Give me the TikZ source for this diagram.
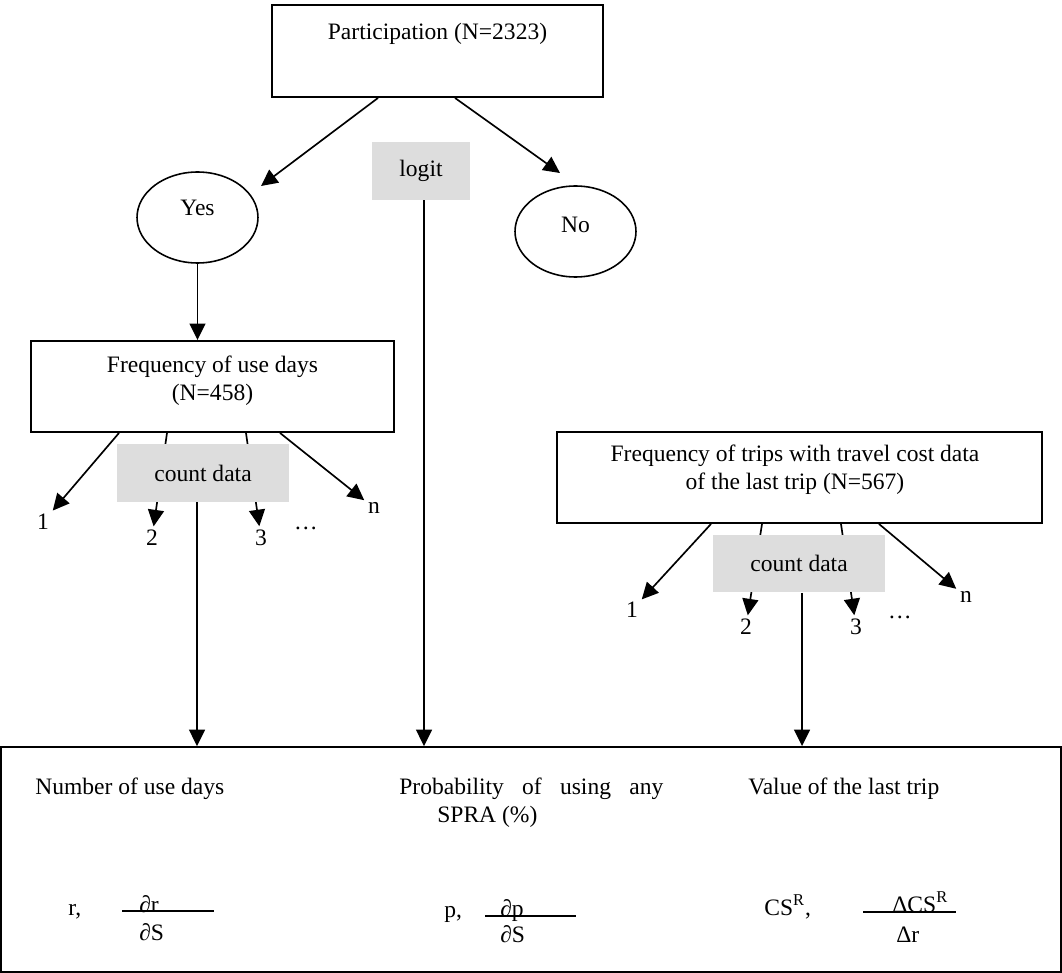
\documentclass[tikz,border=0pt]{standalone}
\usepackage{fontspec}
\setmainfont{Liberation Serif}
\usepackage{tikz}
\usetikzlibrary{shapes.geometric, arrows.meta, positioning}
\definecolor{shadeGray}{HTML}{DDDDDD}

\begin{document}
\begin{tikzpicture}[
        x=0.02cm, y=-0.02cm,
        every node/.style={font=\fontsize{13.4}{16}\selectfont},
        block/.style={rectangle, draw, line width=1.1pt, inner sep=0pt, align=center},
        oval/.style={ellipse, draw, line width=0.9pt, minimum width=2.42cm, minimum height=1.82cm, inner sep=0pt},
        graybox/.style={rectangle, fill=shadeGray, minimum width=3.44cm, minimum height=1.16cm, inner sep=0pt},
        num/.style={inner sep=2pt},
        txt/.style={anchor=base west, inner sep=0pt},
        bar/.style={line width=1.2pt},
        arrow/.style={-{Triangle[length=0.33cm, width=0.32cm]}, line width=0.95pt}
      ]
        \useasboundingbox (0,0) rectangle (1062,973);

        \node[block, minimum width=6.62cm, minimum height=1.84cm, text depth=0.8cm] (part) at (437.5,51) {Participation (N=2323)};
        \node[oval, text depth=0.38cm] (yes) at (197.5,217.5) {Yes};
        \node[oval, text depth=0.26cm] (no) at (575.5,231.5) {No};
        \node[graybox, minimum width=1.96cm] (logit) at (421,171) {logit};
        \draw[arrow] ([xshift=-1.19cm]part.south) -- ([xshift=1.27cm, yshift=0.63cm]yes.center);
        \draw[arrow] ([xshift=0.35cm]part.south) -- ([xshift=-0.31cm, yshift=1.17cm]no.center);

        \node[block, minimum width=7.26cm, minimum height=1.82cm] (freq) at (212.5,386.5) {};
        \node[align=center] (freqtxt) at ([yshift=0.12cm]freq.center) {Frequency of use days\\(N=458)};
        \draw[arrow] (yes.south) -- (yes.south |- freq.north);

        \node[block, minimum width=9.7cm, minimum height=1.82cm] (trips) at (799.5,477.5) {};
        \node[align=center] (tripstxt) at ([xshift=-0.09cm, yshift=0.15cm]trips.center) {Frequency of trips with travel cost data\\of the last trip (N=567)};

        \node[block, minimum width=21.2cm, minimum height=4.5cm] (result) at (531,859.5) {};

        % branches of the count models
        \node[num] (u1) at (43,522) {1};
        \node[num] (u2) at (152,538) {2};
        \node[num] (u3) at (261,538) {3};
        \node[num] (un) at (374,508) {n};
        \node (udots) at (306,528) {…};
        \foreach \dx/\lab in {-1.87/u1, -0.91/u2, 0.67/u3, 1.35/un}
          \draw[arrow] ([xshift=\dx cm]freq.south) -- (\lab);

        \node[num] (t1) at (632,610) {1};
        \node[num] (t2) at (746,627) {2};
        \node[num] (t3) at (856,627) {3};
        \node[num] (tn) at (966,597) {n};
        \node (tdots) at (900,617) {…};
        \foreach \dx/\lab in {-1.77/t1, -0.75/t2, 0.83/t3, 1.59/tn}
          \draw[arrow] ([xshift=\dx cm]trips.south) -- (\lab);

        \node[graybox] (count1) at (203,473) {count data};
        \node[graybox] (count2) at (799,563.5) {count data};

        \draw[arrow] ([xshift=0.06cm]logit.south) -- ([xshift=0.06cm]logit.south |- result.north);
        \draw[arrow] ([xshift=-0.12cm]count1.south) -- ([xshift=-0.12cm]count1.south |- result.north);
        \draw[arrow] ([xshift=0.06cm]count2.south) -- ([xshift=0.06cm]count2.south |- result.north);

        % outcomes
        \node[txt] (days) at (35,794) {Number of use days};
        \node[txt] (prob) at (399,794) {\makebox[5.28cm][s]{Probability of using any}};
        \node[txt] (spra) at (437,822) {SPRA (\%)};
        \node[txt] (value) at (748,794) {Value of the last trip};

        \node[txt] (rsym) at (68,915) {r,};
        \node[txt] (rnum) at (139,912) {∂r};
        \node[txt] (rden) at (139,940) {∂S};
        \draw[bar] (122,911) -- (214,911);

        \node[txt] (psym) at (444,917) {p,};
        \node[txt] (pnum) at (500,916) {∂p};
        \node[txt] (pden) at (500,942) {∂S};
        \draw[bar] (485,916) -- (576,916);

        \node[txt] (csym) at (764,915) {CS\textsuperscript{R},};
        \node[txt] (cnum) at (892,912) {ΔCS\textsuperscript{R}};
        \node[txt] (cden) at (896,942) {Δr};
        \draw[bar] (863,912) -- (956,912);
      \end{tikzpicture}
\end{document}
